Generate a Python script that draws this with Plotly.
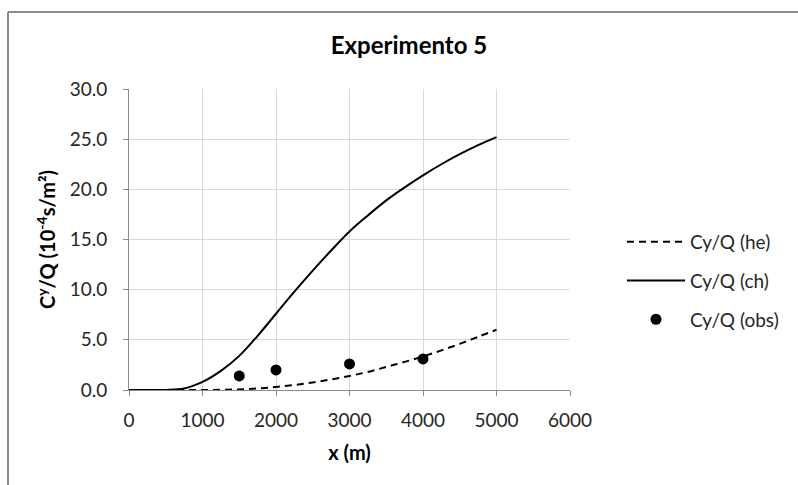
import plotly.graph_objects as go

x_model = [0, 250, 500, 750, 1000, 1250, 1500, 1750, 2000, 2250, 2500, 2750, 3000,
           3250, 3500, 3750, 4000, 4250, 4500, 4750, 5000]
cy_he = [0, 0, 0, 0, 0.0, 0.02, 0.06, 0.15, 0.3, 0.5, 0.75, 1.05, 1.4,
         1.8, 2.3, 2.8, 3.35, 3.95, 4.6, 5.3, 6.0]
cy_ch = [0, 0, 0.01, 0.15, 0.8, 1.9, 3.4, 5.4, 7.6, 9.8, 11.9, 13.9, 15.8,
         17.4, 18.9, 20.2, 21.4, 22.5, 23.5, 24.4, 25.2]
x_obs = [1500, 2000, 3000, 4000]
cy_obs = [1.4, 2.0, 2.6, 3.1]

FONT = "Lato"
fig = go.Figure()
fig.add_trace(go.Scatter(x=x_model, y=cy_he, mode="lines", name="Cy/Q (he)",
                         line=dict(color="black", width=2, dash="7px,5px", shape="spline"),
                         legendgroup="a"))
fig.add_trace(go.Scatter(x=x_model, y=cy_ch, mode="lines", name="Cy/Q (ch)",
                         line=dict(color="black", width=2, shape="spline"),
                         legendgroup="b"))
fig.add_trace(go.Scatter(x=x_obs, y=cy_obs, mode="markers", name="Cy/Q (obs)",
                         marker=dict(color="black", size=11),
                         legendgroup="c"))

L, R, T, B = 129, 228, 89, 95
W, H = 798, 485
pw, ph = W - L - R, H - T - B
fx = (8 - L) / pw
fy_top = (H - B - 12) / ph
fy_bot = -B / ph - 0.05
fx_right = 1 + R / pw + 0.05

fig.update_layout(
    width=W, height=H,
    margin=dict(l=L, r=R, t=T, b=B),
    paper_bgcolor="white", plot_bgcolor="white",
    font=dict(family=FONT, size=19, color="#262626"),
    title=dict(text="<b>Experimento 5</b>", x=(409 - L) / pw, xref="paper", xanchor="center",
               y=1 - 46 / H, yanchor="middle", font=dict(size=24, color="black")),
    xaxis=dict(range=[0, 6000], tickvals=[0, 1000, 2000, 3000, 4000, 5000, 6000],
               showgrid=True, gridcolor="#d9d9d9", gridwidth=1,
               showline=True, linecolor="#8c8c8c", linewidth=1,
               ticks="outside", ticklen=5, tickcolor="#8c8c8c",
               ticklabelstandoff=8,
               zeroline=False, tickfont=dict(size=19),
               title=dict(text="<b>x (m)</b>", font=dict(size=20, color="black"), standoff=16)),
    yaxis=dict(range=[0, 30], tickvals=[0, 5, 10, 15, 20, 25, 30], tickformat=".1f",
               showgrid=True, gridcolor="#d9d9d9", gridwidth=1,
               showline=True, linecolor="#8c8c8c", linewidth=1,
               ticks="outside", ticklen=5, tickcolor="#8c8c8c",
               ticklabelstandoff=12,
               zeroline=False, tickfont=dict(size=19),
               title=dict(text="<b>C<sup>y</sup>/Q (10<sup>-4</sup>s/m²)</b>",
                          font=dict(size=20, color="black"), standoff=8)),
    legend=dict(x=(622 - L) / pw, xanchor="left", y=(H - B - 223) / ph, yanchor="top",
                tracegroupgap=11, font=dict(size=19, color="#262626"),
                bgcolor="rgba(0,0,0,0)", itemwidth=58),
    showlegend=True,
    shapes=[
        dict(type="line", xref="paper", yref="paper", x0=fx, x1=fx_right, y0=fy_top, y1=fy_top,
             line=dict(color="#8c8c8c", width=2)),
        dict(type="line", xref="paper", yref="paper", x0=fx, x1=fx, y0=fy_top, y1=fy_bot,
             line=dict(color="#8c8c8c", width=2)),
    ],
)

fig.write_html("out.html")
